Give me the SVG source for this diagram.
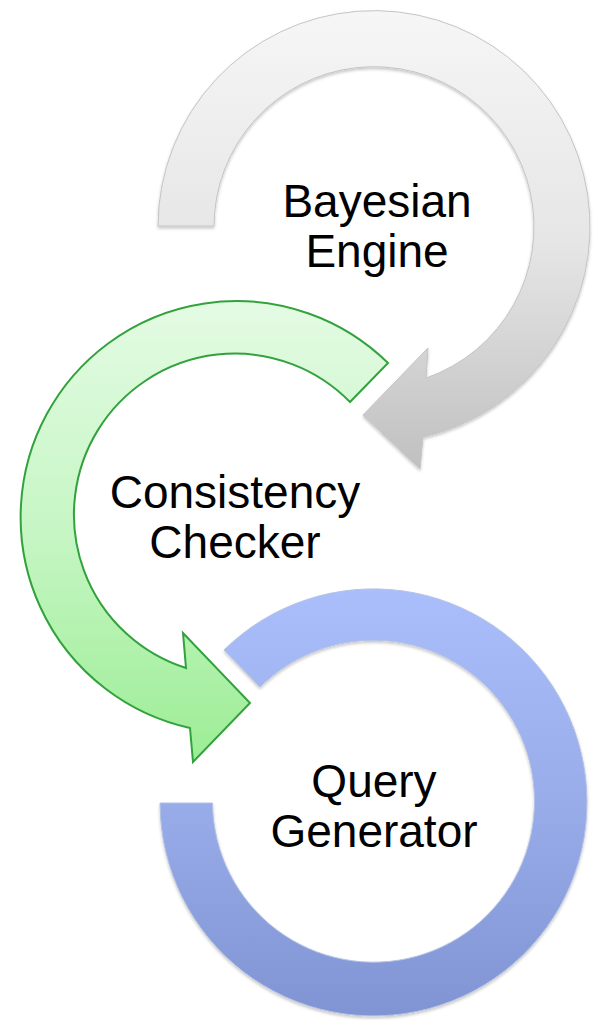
<svg xmlns="http://www.w3.org/2000/svg" width="593" height="1020" viewBox="0 0 593 1020">
  <style>
    .label { font-family: "Liberation Sans", Arial, sans-serif; font-size: 46px; fill: #000000; text-anchor: middle; }
    .gray { fill: url(#gGray); stroke: #c4c4c4; stroke-width: 1; filter: url(#shadow); }
    .green { fill: url(#gGreen); stroke: #32a23d; stroke-width: 2; stroke-linejoin: miter; }
    .blue { fill: url(#gBlue); stroke: #b4c2e4; stroke-width: 1; filter: url(#shadow); }
  </style>
  <defs>
    <linearGradient id="gGray" gradientUnits="userSpaceOnUse" x1="0" y1="10" x2="0" y2="470">
      <stop offset="0" stop-color="#f6f6f6"/>
      <stop offset="0.5" stop-color="#e6e6e6"/>
      <stop offset="1" stop-color="#c0c0c0"/>
    </linearGradient>
    <linearGradient id="gGreen" gradientUnits="userSpaceOnUse" x1="0" y1="300" x2="0" y2="762">
      <stop offset="0" stop-color="#e4fbe4"/>
      <stop offset="0.5" stop-color="#c6f6c4"/>
      <stop offset="1" stop-color="#9ced95"/>
    </linearGradient>
    <linearGradient id="gBlue" gradientUnits="userSpaceOnUse" x1="0" y1="590" x2="0" y2="1017">
      <stop offset="0" stop-color="#a9befa"/>
      <stop offset="0.5" stop-color="#98acea"/>
      <stop offset="1" stop-color="#8093d2"/>
    </linearGradient>
    <filter id="shadow" x="-10%" y="-10%" width="120%" height="120%">
      <feDropShadow dx="0" dy="2" stdDeviation="1.5" flood-color="#000000" flood-opacity="0.22"/>
    </filter>
  </defs>

  <g id="node-bayesian-engine">
    <path class="gray" d="M158,226 A216,216 0 1 1 423,437 L420,469 L363,415 L428,348 L426,378 A160,160 0 1 0 214,226 Z"/>
    <text class="label" x="377" y="217">Bayesian</text>
    <text class="label" x="377" y="267">Engine</text>
  </g>

  <g id="node-consistency-checker">
    <path class="green" d="M388,363 A216,216 0 1 0 190,728 L193,762 L250,703 L183,633 L186,668 A161,161 0 1 1 350,402 Z"/>
    <text class="label" x="235" y="508">Consistency</text>
    <text class="label" x="235" y="558">Checker</text>
  </g>

  <g id="node-query-generator">
    <path class="blue" d="M160,803 A213.5,213.5 0 1 0 224,650 L260,687 A161,161 0 1 1 212.5,803 Z"/>
    <text class="label" x="374" y="797">Query</text>
    <text class="label" x="374" y="847">Generator</text>
  </g>

  <g id="connectors"></g>
</svg>
